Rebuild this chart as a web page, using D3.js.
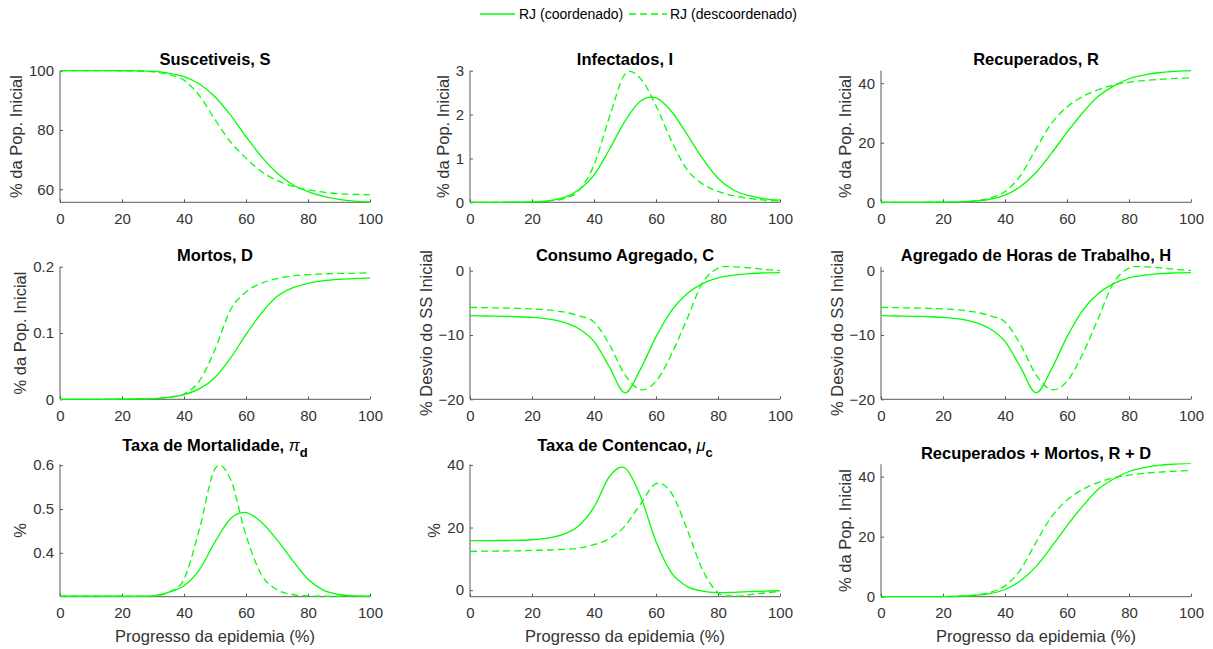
<!DOCTYPE html>
<html lang="pt">
<head>
<meta charset="UTF-8" />
<title>RJ epidemia</title>
<script src="https://d3js.org/d3.v7.min.js"></script>
<style>
  body { margin: 0; background: #fff; }
  text { font-family: "Liberation Sans", Arial, Helvetica, sans-serif; }
  .tick text { fill: #333; font-size: 15px; }
  .domain { stroke: #5a5a5a; }
  .tick line { stroke: #5a5a5a; }
</style>
</head>
<body>
<script>
// progresso da epidemia (%)
var progresso = [0,5,10,15,20,25,30,35,40,45,50,55,60,65,70,75,80,85,90,95,100];

// coordenado (solid) / descoordenado (dashed)
var S_coord   = [100,100,100,100,99.98,99.93,99.75,99.2,98.0,95.5,91.2,85.0,77.8,71.0,65.5,61.6,59.2,57.6,56.6,56.0,55.7];
var S_desc    = [100,100,100,100,99.98,99.9,99.6,98.8,96.8,91.5,83.5,76.0,70.5,66.0,63.0,61.0,59.8,59.0,58.5,58.3,58.1];

var I_coord   = [0,0,0,0.005,0.01,0.03,0.1,0.28,0.62,1.21,1.85,2.31,2.38,2.07,1.55,1.0,0.55,0.28,0.15,0.08,0.05];
var I_desc    = [0,0,0,0.005,0.01,0.03,0.08,0.26,0.85,1.95,2.92,2.82,2.2,1.4,0.75,0.42,0.25,0.15,0.09,0.05,0.03];

var R_coord   = [0,0,0,0.01,0.05,0.15,0.4,1.0,2.4,5.3,10.0,16.5,23.5,30.0,35.5,39.0,41.5,42.8,43.6,44.0,44.2];
var R_desc    = [0,0,0,0.01,0.05,0.15,0.5,1.4,3.6,9.0,18.0,26.5,32.0,35.5,37.8,39.4,40.3,40.9,41.3,41.6,41.8];

var D_coord   = [0,0,0,0,0.0002,0.0005,0.001,0.003,0.007,0.016,0.033,0.062,0.098,0.13,0.155,0.168,0.175,0.179,0.181,0.182,0.183];
var D_desc    = [0,0,0,0,0.0002,0.0005,0.001,0.003,0.008,0.028,0.075,0.135,0.162,0.175,0.182,0.186,0.188,0.189,0.19,0.19,0.191];

var C_coord   = [-7.0,-7.05,-7.1,-7.15,-7.25,-7.5,-8.0,-9.0,-11.0,-15.0,-19.0,-15.3,-10.3,-6.2,-3.6,-2.0,-1.1,-0.7,-0.45,-0.35,-0.3];
var C_desc    = [-5.7,-5.75,-5.8,-5.85,-5.95,-6.1,-6.4,-7.0,-8.0,-11.5,-16.2,-18.5,-17.2,-13.0,-7.5,-1.9,0.4,0.6,0.45,0.2,0.0];

var H_coord   = [-7.0,-7.05,-7.1,-7.15,-7.25,-7.5,-8.0,-9.0,-11.0,-15.0,-19.0,-15.3,-10.3,-6.2,-3.6,-2.0,-1.1,-0.7,-0.45,-0.35,-0.3];
var H_desc    = [-5.7,-5.75,-5.8,-5.85,-5.95,-6.1,-6.4,-7.0,-8.0,-11.5,-16.2,-18.5,-17.2,-13.0,-7.5,-1.9,0.4,0.6,0.45,0.2,0.0];

var PId_coord = [0.301,0.301,0.301,0.301,0.301,0.301,0.302,0.31,0.325,0.362,0.425,0.478,0.492,0.47,0.43,0.383,0.34,0.315,0.305,0.302,0.301];
var PId_desc  = [0.301,0.301,0.301,0.301,0.301,0.301,0.301,0.31,0.34,0.455,0.592,0.568,0.44,0.35,0.316,0.305,0.302,0.301,0.301,0.301,0.301];

var MUc_coord = [15.8,15.8,15.85,15.9,16.1,16.6,17.8,20.5,26.5,36.3,39.0,30.0,15.5,5.5,1.2,-0.3,-0.8,-0.7,-0.5,-0.3,-0.2];
var MUc_desc  = [12.4,12.45,12.5,12.55,12.7,12.8,13.0,13.4,14.5,16.5,20.5,27.5,34.0,31.0,19.5,6.5,-0.8,-1.9,-1.5,-0.9,-0.5];

var RD_coord  = [0,0,0,0.01,0.05,0.15,0.4,1.0,2.4,5.3,10.0,16.6,23.6,30.1,35.7,39.2,41.7,43.0,43.8,44.2,44.4];
var RD_desc   = [0,0,0,0.01,0.05,0.15,0.5,1.4,3.6,9.0,18.1,26.6,32.2,35.7,38.0,39.6,40.5,41.1,41.5,41.8,42.0];

var xTicks = [0,20,40,60,80,100];

var W = 1213, H = 649;
var svg = d3.select("body").append("svg").attr("width", W).attr("height", H);
var green = "#00ff00";

var colLeft = [60, 470, 881];
var plotW = 310;
var rowTop = [70.7, 266.7, 464.3];
var rowBot = [202.3, 399.3, 596.7];

var panels = [
  {t:"Suscetiveis, S", yl:"% da Pop. Inicial", a:S_coord, b:S_desc, dom:[55.6,100], ticks:[60,80,100]},
  {t:"Infectados, I", yl:"% da Pop. Inicial", a:I_coord, b:I_desc, dom:[0,3], ticks:[0,1,2,3]},
  {t:"Recuperados, R", yl:"% da Pop. Inicial", a:R_coord, b:R_desc, dom:[0,44.2], ticks:[0,20,40]},
  {t:"Mortos, D", yl:"% da Pop. Inicial", a:D_coord, b:D_desc, dom:[0,0.2], ticks:[0,0.1,0.2]},
  {t:"Consumo Agregado, C", yl:"% Desvio do SS Inicial", a:C_coord, b:C_desc, dom:[-20,0.62], ticks:[-20,-10,0]},
  {t:"Agregado de Horas de Trabalho, H", yl:"% Desvio do SS Inicial", a:H_coord, b:H_desc, dom:[-20,0.62], ticks:[-20,-10,0]},
  {t:"Taxa de Mortalidade, ", sym:"\u03c0", sub:"d", yl:"%", a:PId_coord, b:PId_desc, dom:[0.3,0.602], ticks:[0.4,0.5,0.6]},
  {t:"Taxa de Contencao, ", sym:"\u03bc", sub:"c", yl:"%", a:MUc_coord, b:MUc_desc, dom:[-2.1,40.2], ticks:[0,20,40]},
  {t:"Recuperados + Mortos, R + D", yl:"% da Pop. Inicial", a:RD_coord, b:RD_desc, dom:[0,44.1], ticks:[0,20,40]}
];

panels.forEach(function(p, i) {
  var r = Math.floor(i / 3), c = i % 3;
  var x0 = colLeft[c], top = rowTop[r], bot = rowBot[r];
  var x = d3.scaleLinear().domain([0,100]).range([x0, x0 + plotW]);
  var y = d3.scaleLinear().domain(p.dom).range([bot, top]);
  var g = svg.append("g");

  var xa = g.append("g").attr("transform", "translate(0," + bot + ")")
    .call(d3.axisBottom(x).tickValues(xTicks).tickSizeInner(-3).tickSizeOuter(0).tickPadding(11));
  xa.selectAll(".tick text").attr("dy", "0.71em");
  var ya = g.append("g").attr("transform", "translate(" + x0 + ",0)")
    .call(d3.axisLeft(y).tickValues(p.ticks).tickSizeInner(-3).tickSizeOuter(0).tickPadding(6)
      .tickFormat(d3.format("")));
  // keep both axis lines to the full box
  ya.select(".domain").attr("d", "M0," + top + "V" + bot);
  xa.select(".domain").attr("d", "M" + x0 + ",0H" + (x0 + plotW));

  var tw = 0;
  ya.selectAll(".tick text").each(function() { tw = Math.max(tw, this.getBBox().width); });

  g.append("text")
    .attr("transform", "translate(" + (x0 - 6 - tw - 13) + "," + ((top + bot) / 2) + ") rotate(-90)")
    .attr("text-anchor", "middle").attr("dominant-baseline", "central")
    .style("font-size", "16.5px").style("fill", "#333").text(p.yl);

  var line = d3.line().x(function(d, k) { return x(progresso[k]); }).y(function(d) { return y(d); })
    .curve(d3.curveCardinal.tension(0));
  var clipId = "clip" + i;
  svg.append("clipPath").attr("id", clipId).append("rect")
    .attr("x", x0).attr("y", top - 1).attr("width", plotW + 1).attr("height", bot - top + 2);
  g.append("path").datum(p.a).attr("d", line).attr("clip-path", "url(#" + clipId + ")")
    .attr("fill", "none").attr("stroke", green).attr("stroke-width", 1.3);
  g.append("path").datum(p.b).attr("d", line).attr("clip-path", "url(#" + clipId + ")")
    .attr("fill", "none").attr("stroke", green).attr("stroke-width", 1.3).attr("stroke-dasharray", "7,4");

  var tt = g.append("text").attr("x", x0 + plotW / 2).attr("y", p.sub ? top - 13 : top - 5.5)
    .attr("text-anchor", "middle").style("font-size", "16.5px").style("font-weight", "bold").style("fill", "#000");
  tt.append("tspan").text(p.t);
  if (p.sub) {
    tt.append("tspan").style("font-weight", "normal").style("font-style", "italic").text(p.sym);
    tt.append("tspan").attr("dy", 6).style("font-size", "13px").text(p.sub);
  }

  if (r === 2) {
    g.append("text").attr("x", x0 + plotW / 2).attr("y", bot + 45).attr("text-anchor", "middle")
      .style("font-size", "16.5px").style("fill", "#333").text("Progresso da epidemia (%)");
  }
});

// legend
var leg = svg.append("g");
leg.append("line").attr("x1", 480).attr("x2", 515).attr("y1", 14).attr("y2", 14)
  .attr("stroke", green).attr("stroke-width", 1.3);
leg.append("text").attr("x", 519).attr("y", 19).style("font-size", "14px").style("fill", "#000").text("RJ (coordenado)");
leg.append("line").attr("x1", 629).attr("x2", 667).attr("y1", 14).attr("y2", 14)
  .attr("stroke", green).attr("stroke-width", 1.3).attr("stroke-dasharray", "7,4");
leg.append("text").attr("x", 670).attr("y", 19).style("font-size", "14px").style("fill", "#000").text("RJ (descoordenado)");
</script>
</body>
</html>
